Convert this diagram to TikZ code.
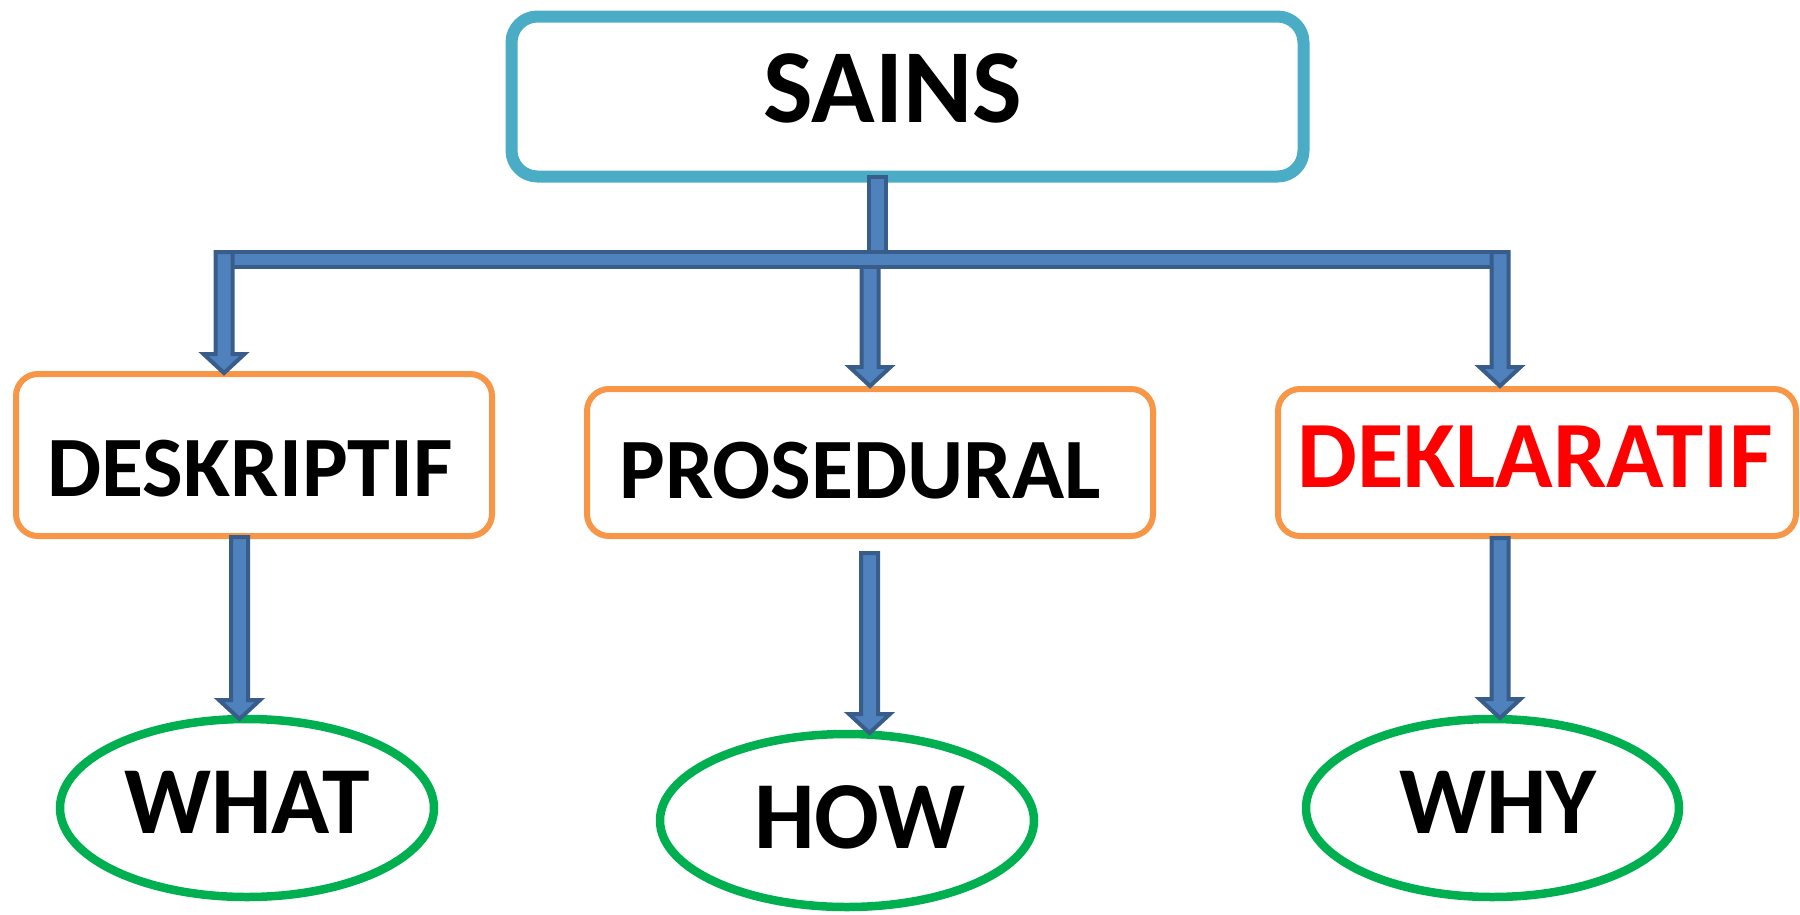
\documentclass[tikz,border=0pt]{standalone}
\usepackage{fontspec}
\setmainfont{Carlito}
\usetikzlibrary{calc,shapes.geometric}

\definecolor{cTeal}{HTML}{4BACC6}
\definecolor{cOrange}{HTML}{F79646}
\definecolor{cGreen}{HTML}{00B050}
\definecolor{cBlue}{HTML}{4F81BD}
\definecolor{cBlueDark}{HTML}{385D8A}
\definecolor{cRed}{HTML}{FF0000}

% text set off from the node centre by (#1 right, #2 up); caps centred
\newcommand\offtext[3]{\makebox[0pt]{\hspace*{#1}\hspace*{#1}\raisebox{\dimexpr#2-0.5\fontcharht\font`H\relax}[0pt][0pt]{#3}}}

% downward block arrow from #1 to the tip #2
\newcommand\blockarrow[2]{\filldraw[barrow] let \p1=(#1), \p2=(#2) in
  (\x1-8.5pt,\y1) -- (\x1+8.5pt,\y1) -- (\x1+8.5pt,\y2+19pt) -- (\x1+20.5pt,\y2+19pt)
  -- (\x1,\y2) -- (\x1-20.5pt,\y2+19pt) -- (\x1-8.5pt,\y2+19pt) -- cycle;}

\begin{document}
\begin{tikzpicture}[x=1pt,y=-1pt,
  topbox/.style={draw=cTeal, line width=12pt, rounded corners=26pt,
    minimum width=792pt, minimum height=160pt, inner sep=0pt,
    font=\bfseries\fontsize{105}{105}\selectfont},
  midbox/.style={draw=cOrange, line width=6pt, rounded corners=22pt, inner sep=0pt,
    font=\bfseries\fontsize{86}{86}\selectfont},
  leaf/.style={ellipse, draw=cGreen, line width=8.5pt, minimum width=374pt,
    minimum height=178pt, inner sep=0pt,
    font=\bfseries\fontsize{96}{96}\selectfont},
  barrow/.style={fill=cBlue, draw=cBlueDark, line width=4pt, line join=miter}]

\useasboundingbox (0,0) rectangle (1800,914);

% boxes
\node[topbox] (sains) at (907.5,96.5) {\offtext{-15pt}{8.5pt}{SAINS}};
\node[midbox, minimum width=476pt, minimum height=162pt] (desk) at (254,455)
  {\offtext{-4pt}{-14pt}{DESKRIPTIF}};
\node[midbox, minimum width=566pt, minimum height=147pt] (pros) at (870,462.5)
  {\offtext{-10pt}{-8.5pt}{PROSEDURAL}};
\node[midbox, minimum width=518pt, minimum height=147pt, text=cRed,
  font=\bfseries\fontsize{95}{95}\selectfont] (dekl) at (1537,462.5)
  {\offtext{-2pt}{5.5pt}{DEKLARATIF}};

% ellipses
\node[leaf] (what) at (247,808) {\offtext{0pt}{6pt}{WHAT}};
\node[leaf, minimum height=173pt] (how) at (847,820.5) {\offtext{13pt}{3.5pt}{HOW}};
\node[leaf, minimum width=373pt] (why) at (1492.5,808) {\offtext{5.5pt}{6pt}{WHY}};

% connector end points
\coordinate (stemA) at (868.5,177);
\coordinate (stemB) at (885.5,258);
\coordinate (busA) at (216,252);
\coordinate (busB) at (1507,267);
\coordinate (dropL) at (224,252);   \coordinate (tipL) at (224,373);
\coordinate (dropM) at (870,266);   \coordinate (tipM) at (870,386);
\coordinate (dropR) at (1500,252);  \coordinate (tipR) at (1500,386);
\coordinate (fromD) at (239.5,537); \coordinate (tipW) at (239.5,719);
\coordinate (fromP) at (869.5,553); \coordinate (tipH) at (869.5,733);
\coordinate (fromK) at (1500,538);  \coordinate (tipY) at (1500,718);

% branching connectors from SAINS
\filldraw[barrow] (stemA) rectangle (stemB);
\blockarrow{dropM}{tipM}
\filldraw[barrow] (busA) rectangle (busB);
\blockarrow{dropL}{tipL}
\blockarrow{dropR}{tipR}

% connectors to the ellipses
\blockarrow{fromD}{tipW}
\blockarrow{fromP}{tipH}
\blockarrow{fromK}{tipY}
\end{tikzpicture}
\end{document}
